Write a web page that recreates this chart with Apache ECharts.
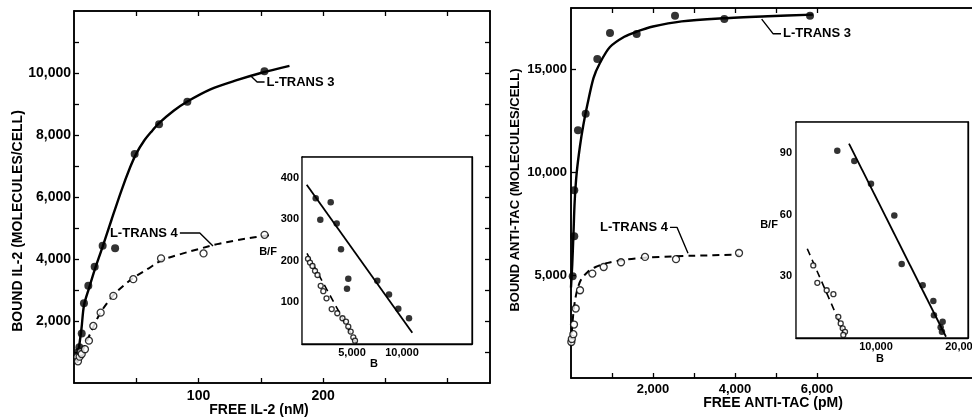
<!DOCTYPE html>
<html><head><meta charset="utf-8">
<script src="https://cdn.jsdelivr.net/npm/echarts@6/dist/echarts.min.js"></script>
<style>html,body{margin:0;padding:0;background:#fff}#c{width:972px;height:418px}</style>
</head><body><div id="c"></div>
<script>
// ---------- Left panel: IL-2 binding (free nM vs bound molecules/cell) ----------
const il2T3Points = [[3.5,1000],[4.3,1150],[6.2,1600],[8,2570],[11.5,3140],[16.6,3750],[23,4430],[33,4350],[48.7,7390],[68.3,8350],[91,9070],[152.9,10060]];
const il2T3Curve = [[2.5,700],[4,1150],[6,1750],[8,2500],[12,3050],[16.6,3650],[23,4400],[30,5250],[38,6200],[45,6950],[50,7400],[56,7800],[62,8100],[68.3,8380],[80,8780],[91,9080],[110,9480],[130,9760],[150,10000],[173,10230]];
const il2T4Points = [[2.7,840],[3.2,700],[4.5,850],[5.4,1000],[6.2,935],[8.8,1090],[12,1365],[15.5,1840],[21.4,2270],[31.6,2810],[47.6,3350],[69.9,4020],[104,4180],[153,4780]];
const il2T4Curve = [[2.5,650],[5,900],[8,1150],[12,1500],[16,1850],[21,2250],[27,2600],[32,2850],[40,3150],[48,3400],[60,3700],[70,3950],[85,4150],[100,4320],[115,4480],[130,4600],[145,4700],[160,4790]];
// Scatchard inset (B vs B/F)
const il2T3Scatchard = [[1370,351],[1830,299],[2870,341],[3470,290],[3900,228],[4630,157],[4500,133],[7530,152],[8700,119],[9630,85],[10700,62]];
const il2T3ScatchardLine = [[470,383],[11030,27]];
const il2T4Scatchard = [[600,205],[800,196],[1050,188],[1300,176],[1550,166],[1870,140],[2130,127],[2450,110],[2970,84],[3530,74],[4050,62],[4400,54],[4630,42],[4870,30],[5130,16],[5300,8]];
const il2T4ScatchardLine = [[500,218],[5470,0]];
// Label leaders (data coords)
const il2T3Leader = [[142,9900],[147,9710],[153,9710]];
const il2T4Leader = [[85,4840],[101,4840],[111.6,4420]];
// Tick values
const il2FreeTicks = [50,100,150,200,250,300];
const il2FreeLabels = [100,200];
const il2BoundTicks = [1000,2000,3000,4000,5000,6000,7000,8000,9000,10000,11000];
const il2BoundLabels = [2000,4000,6000,8000,10000];
const il2InsetBTicks = [5000,10000,15000];
const il2InsetBLabels = [5000,10000];
const il2InsetBFTicks = [100,200,300,400];

// ---------- Right panel: anti-Tac binding (free pM vs bound) ----------
const tacT3Points = [[41,4950],[80,6890],[80,9130],[170,12050],[358,12850],[642,15520],[951,16780],[1602,16730],[2537,17620],[3740,17460],[5830,17620]];
const tacT3Curve = [[0,4400],[30,5500],[60,7000],[90,8600],[140,10000],[220,11300],[300,12300],[400,13300],[550,14600],[700,15300],[950,16100],[1300,16600],[1600,16850],[2000,17100],[2700,17350],[3700,17500],[4800,17600],[5900,17680]];
const tacT4Points = [[8,1750],[20,1900],[57,2130],[73,2600],[115,3380],[220,4270],[520,5080],[797,5400],[1220,5630],[1805,5890],[2561,5780],[4098,6080]];
const tacT4Curve = [[0,1600],[30,2500],[60,3200],[100,3800],[160,4350],[250,4800],[400,5150],[600,5400],[900,5600],[1300,5750],[1800,5850],[2500,5920],[3000,5950],[4100,6000]];
const tacT3Scatchard = [[5500,91],[7480,86],[9420,75],[12130,59.5],[12990,36],[15430,25.6],[16670,18],[16740,11],[17750,7.9],[17520,5.2],[17670,3]];
const tacT3ScatchardLine = [[6860,94.5],[18140,0.6]];
const tacT4Scatchard = [[2710,35.3],[3180,26.8],[4270,23.2],[5050,21.3],[5620,10.3],[5900,7.1],[6130,4.7],[6400,3],[6200,1.5]];
const tacT4ScatchardLine = [[2010,43.4],[6400,1.5]];
const tacT3Leader = [[4651,17460],[4927,16750],[5122,16750]];
const tacT4Leader = [[2415,7330],[2585,7330],[2854,6070]];
const tacFreeTicks = [1000,2000,3000,4000,5000,6000];
const tacFreeLabels = [2000,4000,6000];
const tacBoundTicks = [5000,10000,15000];
const tacInsetBTicks = [10000,20000];
const tacInsetBFTicks = [30,60,90];

const FONT = '"Liberation Sans", Arial, sans-serif';
const fmt = v => Number(v).toLocaleString('en-US');
const chart = echarts.init(document.getElementById('c'), null, {renderer:'canvas'});

function axis(base, o) {
  return Object.assign({
    type:'value', scale:false, splitLine:{show:false},
    axisLine:{show:true, onZero:false, lineStyle:{color:'#000', width:1.5}},
    axisTick:{show:true, inside:true, length:5, lineStyle:{color:'#000', width:1.3}},
    axisLabel:{show:true, color:'#000', fontFamily:FONT, fontWeight:'bold', fontSize:14, formatter:fmt, margin:4},
  }, base, o);
}
const noLabel = {show:false};

const xAxis = [
  axis({gridIndex:0, position:'bottom', min:0, max:334}, {axisTick:{show:true, inside:true, length:5, customValues:il2FreeTicks, lineStyle:{color:'#000',width:1.3}}, axisLabel:{show:true, customValues:il2FreeLabels, color:'#000', fontFamily:FONT, fontWeight:'bold', fontSize:14, margin:6}}),
  axis({gridIndex:0, position:'top', min:0, max:334}, {axisTick:{show:true, inside:true, length:5, customValues:il2FreeTicks, lineStyle:{color:'#000',width:1.3}}, axisLabel:noLabel}),
  axis({gridIndex:1, position:'bottom', min:0, max:17000}, {axisLine:{show:true,onZero:false,lineStyle:{color:'#000',width:1.3}}, axisTick:{show:true, inside:true, length:4, customValues:il2InsetBTicks, lineStyle:{color:'#000',width:1.2}}, axisLabel:{show:true, customValues:il2InsetBLabels, formatter:fmt, color:'#000', fontFamily:FONT, fontWeight:'bold', fontSize:11, margin:3}}),
  axis({gridIndex:1, position:'top', min:0, max:17000}, {axisLine:{show:true,onZero:false,lineStyle:{color:'#000',width:1.3}}, axisTick:{show:true, inside:true, length:4, customValues:il2InsetBTicks, lineStyle:{color:'#000',width:1.2}}, axisLabel:noLabel}),
  axis({gridIndex:2, position:'bottom', min:0, max:10000}, {axisTick:{show:true, inside:true, length:5, customValues:tacFreeTicks, lineStyle:{color:'#000',width:1.3}}, axisLabel:{show:true, customValues:tacFreeLabels, formatter:fmt, color:'#000', fontFamily:FONT, fontWeight:'bold', fontSize:13, margin:5}}),
  axis({gridIndex:2, position:'top', min:0, max:10000}, {axisTick:{show:true, inside:true, length:5, customValues:tacFreeTicks, lineStyle:{color:'#000',width:1.3}}, axisLabel:noLabel}),
  axis({gridIndex:3, position:'bottom', min:700, max:20700}, {axisLine:{show:true,onZero:false,lineStyle:{color:'#000',width:1.3}}, axisTick:{show:true, inside:true, length:4, customValues:tacInsetBTicks, lineStyle:{color:'#000',width:1.2}}, axisLabel:{show:true, customValues:tacInsetBTicks, formatter:fmt, color:'#000', fontFamily:FONT, fontWeight:'bold', fontSize:11, margin:3}}),
  axis({gridIndex:3, position:'top', min:700, max:20700}, {axisLine:{show:true,onZero:false,lineStyle:{color:'#000',width:1.3}}, axisTick:{show:true, inside:true, length:4, customValues:tacInsetBTicks, lineStyle:{color:'#000',width:1.2}}, axisLabel:noLabel}),
];
const yAxis = [
  axis({gridIndex:0, position:'left', min:0, max:12000}, {axisTick:{show:true, inside:true, length:5, customValues:il2BoundTicks, lineStyle:{color:'#000',width:1.3}}, axisLabel:{show:true, customValues:il2BoundLabels, formatter:fmt, color:'#000', fontFamily:FONT, fontWeight:'bold', fontSize:14, margin:3}}),
  axis({gridIndex:0, position:'right', min:0, max:12000}, {axisTick:{show:true, inside:true, length:5, customValues:il2BoundTicks, lineStyle:{color:'#000',width:1.3}}, axisLabel:noLabel}),
  axis({gridIndex:1, position:'left', min:0, max:450}, {axisLine:{show:true,onZero:false,lineStyle:{color:'#000',width:1.3}}, axisTick:{show:true, inside:true, length:4, customValues:il2InsetBFTicks, lineStyle:{color:'#000',width:1.2}}, axisLabel:{show:true, customValues:il2InsetBFTicks, color:'#000', fontFamily:FONT, fontWeight:'bold', fontSize:11, margin:3}}),
  axis({gridIndex:1, position:'right', min:0, max:450}, {axisLine:{show:true,onZero:false,lineStyle:{color:'#000',width:1.3}}, axisTick:{show:true, inside:true, length:4, customValues:il2InsetBFTicks, lineStyle:{color:'#000',width:1.2}}, axisLabel:noLabel}),
  axis({gridIndex:2, position:'left', min:0, max:18000}, {axisTick:{show:true, inside:true, length:5, customValues:tacBoundTicks, lineStyle:{color:'#000',width:1.3}}, axisLabel:{show:true, customValues:tacBoundTicks, formatter:fmt, color:'#000', fontFamily:FONT, fontWeight:'bold', fontSize:13, margin:4}}),
  axis({gridIndex:3, position:'left', min:0, max:105}, {axisLine:{show:true,onZero:false,lineStyle:{color:'#000',width:1.3}}, axisTick:{show:true, inside:true, length:4, customValues:tacInsetBFTicks, lineStyle:{color:'#000',width:1.2}}, axisLabel:{show:true, customValues:tacInsetBFTicks, color:'#000', fontFamily:FONT, fontWeight:'bold', fontSize:11, margin:4}}),
  axis({gridIndex:3, position:'right', min:0, max:105}, {axisLine:{show:true,onZero:false,lineStyle:{color:'#000',width:1.3}}, axisTick:{show:true, inside:true, length:4, customValues:tacInsetBFTicks, lineStyle:{color:'#000',width:1.2}}, axisLabel:noLabel}),
];

function dots(data, xi, yi, size) {
  return {type:'scatter', xAxisIndex:xi, yAxisIndex:yi, data, symbol:'circle', symbolSize:size||8,
    itemStyle:{color:'#000'}, z:5, silent:true};
}
function rings(data, xi, yi, size) {
  return {type:'scatter', xAxisIndex:xi, yAxisIndex:yi, data, symbol:'circle', symbolSize:size||7,
    itemStyle:{color:'#fff', borderColor:'#000', borderWidth:1.3}, z:6, silent:true};
}
function curve(data, xi, yi, dashed, w, smooth) {
  return {type:'line', xAxisIndex:xi, yAxisIndex:yi, data, showSymbol:false, symbol:'none',
    smooth: smooth===undefined ? 0.35 : smooth,
    lineStyle:{color:'#000', width:w||2.2, type: dashed ? [7,5] : 'solid'}, z:4, silent:true, animation:false};
}
function leader(data, xi, yi, text, labelIdx, pos) {
  const d = data.map((p, i) => i === labelIdx ? {value:p, label:{show:true, formatter:text, position:pos, distance:2,
      color:'#000', fontFamily:FONT, fontWeight:'bold', fontSize:13}} : {value:p});
  return {type:'line', xAxisIndex:xi, yAxisIndex:yi, data:d, symbol:'circle', symbolSize:0.1, showSymbol:true,
    lineStyle:{color:'#000', width:1.4}, itemStyle:{color:'#000'}, z:7, silent:true, animation:false};
}

const series = [
  curve(il2T3Curve, 0, 0, false, 2.4, 0.3),
  dots(il2T3Points, 0, 0, 8),
  curve(il2T4Curve, 0, 0, true, 2.0),
  rings(il2T4Points, 0, 0, 7),
  leader(il2T3Leader, 0, 0, 'L-TRANS 3', 2, 'right'),
  leader(il2T4Leader, 0, 0, 'L-TRANS 4', 0, 'left'),
  curve(il2T3ScatchardLine, 2, 2, false, 1.8, false),
  dots(il2T3Scatchard, 2, 2, 6.5),
  curve(il2T4ScatchardLine, 2, 2, true, 1.6, false),
  rings(il2T4Scatchard, 2, 2, 5),

  curve(tacT3Curve, 4, 4, false, 2.4, 0.3),
  dots(tacT3Points, 4, 4, 8),
  curve(tacT4Curve, 4, 4, true, 2.0, 0.3),
  rings(tacT4Points, 4, 4, 7),
  leader(tacT3Leader, 4, 4, 'L-TRANS 3', 2, 'right'),
  leader(tacT4Leader, 4, 4, 'L-TRANS 4', 0, 'left'),
  curve(tacT3ScatchardLine, 6, 5, false, 1.8, false),
  dots(tacT3Scatchard, 6, 5, 6.5),
  curve(tacT4ScatchardLine, 6, 5, true, 1.6, false),
  rings(tacT4Scatchard, 6, 5, 5),
];

function txt(x, y, text, size, rot) {
  return {type:'text', x, y, rotation: rot || 0, silent:true, z:10,
    style:{text, fill:'#000', font:'bold ' + size + 'px ' + FONT, align:'center', verticalAlign:'middle'}};
}

const gridBase = {show:true, borderColor:'#000', containLabel:false, outerBoundsMode:'none'};
chart.setOption({
  animation:false,
  backgroundColor:'#fff',
  grid:[
    Object.assign({left:74, top:11, width:416, height:372, borderWidth:1.5, backgroundColor:'rgba(0,0,0,0)'}, gridBase),
    Object.assign({left:302, top:157, width:170, height:187, borderWidth:1.3, backgroundColor:'#fff', z:3}, gridBase),
    Object.assign({left:571, top:8, width:410, height:370, borderWidth:1.5, backgroundColor:'rgba(0,0,0,0)'}, gridBase),
    Object.assign({left:796, top:122, width:172, height:216, borderWidth:1.3, backgroundColor:'#fff', z:3}, gridBase),
  ],
  xAxis, yAxis, series,
  graphic:[
    txt(18, 221, 'BOUND IL-2 (MOLECULES/CELL)', 14, Math.PI/2),
    txt(259, 410, 'FREE IL-2 (nM)', 14),
    txt(515, 190, 'BOUND ANTI-TAC (MOLECULES/CELL)', 13, Math.PI/2),
    txt(773, 403, 'FREE ANTI-TAC (pM)', 14),
    txt(268, 252, 'B/F', 11),
    txt(374, 364, 'B', 11),
    txt(769, 225, 'B/F', 11),
    txt(880, 359, 'B', 11),
  ]
});
</script></body></html>
